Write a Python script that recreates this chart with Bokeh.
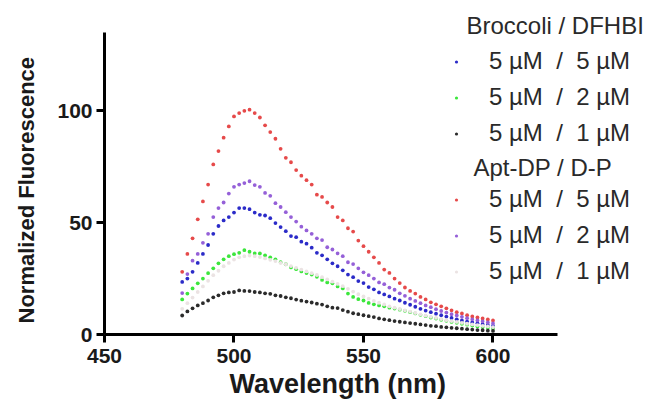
from bokeh.plotting import figure
from bokeh.models import Range1d, FixedTicker, Legend, LegendItem, Label, Title
from bokeh.embed import file_html
from bokeh.resources import INLINE

wavelength = list(range(480, 601, 2))

broccoli_5_5 = [23.5, 25, 28, 32, 36, 40, 45, 48.5, 51, 52.5,
                54.5, 56.5, 56.5, 56, 54.5, 53.5, 53.2, 52, 49.8, 48,
                46.2, 44, 43.5, 41.5, 40.6, 38.8, 36.5, 35.4, 33.6, 31.8,
                30.5, 28.7, 26.8, 25.6, 23.9, 23, 21.2, 20.2, 18.8, 17.9,
                17, 16, 15.2, 14.2, 13.3, 12.4, 11.5, 10.7, 10, 9.3,
                8.6, 8, 7.4, 6.8, 6.3, 5.8, 5.4, 5, 4.6, 4.2,
                3.9]
broccoli_5_2 = [15.7, 18.3, 20.6, 22.9, 25, 27.4, 29.6, 31.8, 33.6, 35,
                35.9, 36.5, 37.7, 37, 36.3, 36.2, 35.4, 34.5, 33.6, 32.3,
                31.4, 30, 29.2, 28.2, 27.5, 26.8, 25.8, 24.4, 23.3, 22.9,
                21.5, 20.6, 18.3, 16.8, 15.8, 15.2, 14.1, 13.5, 13, 12.6,
                12, 11.6, 11.1, 10.6, 10, 9.4, 8.8, 8.2, 7.6, 7.1,
                6.6, 6.1, 5.6, 5.2, 4.8, 4.4, 4, 3.6, 3.3, 3,
                2.7]
broccoli_5_1 = [8.5, 10.3, 11.7, 13, 14, 15.2, 16.6, 17.5, 18.4, 18.8,
                19, 19.7, 19.5, 19.4, 19, 18.8, 18.4, 18.2, 17.5, 17.2,
                16.6, 16.2, 15.6, 15.1, 14.7, 14.3, 13.8, 13.4, 12.6, 12,
                11.8, 10.9, 10.2, 9.5, 9.1, 8.6, 8.2, 7.8, 7.2, 6.8,
                6.4, 6, 5.7, 5.4, 5.1, 4.8, 4.5, 4.2, 3.9, 3.7,
                3.4, 3.2, 3, 2.8, 2.6, 2.4, 2.2, 2, 1.9, 1.7,
                1.6]
aptdp_5_5 = [28, 36, 43, 51.5, 59.5, 67, 76, 82, 88, 93,
             97.5, 99, 100, 100.5, 99, 97, 93.5, 90.5, 87.5, 83,
             79, 77, 73.5, 71, 69, 67, 62.5, 61.5, 59, 57,
             52.5, 51, 47.5, 46, 42, 39.5, 37, 34.5, 32, 29,
             27.5, 25, 23, 21, 19.5, 18.3, 16.8, 15.7, 14.4, 13.5,
             12.6, 11.7, 10.8, 10, 9.4, 8.6, 8.1, 7.6, 7.2, 6.7,
             6.3]
aptdp_5_2 = [18.5, 27, 33, 36, 41, 45, 52.5, 56.5, 59, 63,
             66, 67, 67.7, 68.5, 66.8, 66, 63.3, 62, 58.7, 57,
             54.7, 52.5, 50.5, 48.2, 46.5, 45, 43, 42.2, 39, 38,
             36.3, 35, 32.3, 31.5, 29.6, 27.8, 26.5, 25, 23.3, 22.5,
             21, 20, 18.4, 17.3, 16, 15, 14, 13, 12.2, 11.3,
             10.5, 9.8, 9.1, 8.5, 7.9, 7.3, 6.8, 6.3, 5.9, 5.4,
             5]
aptdp_5_1 = [11.5, 14, 16.5, 19, 21.5, 24, 26.5, 28.5, 30.5, 32,
             33.5, 34.5, 35, 35.3, 35, 34.6, 34, 33.4, 32.8, 32,
             31.4, 30.6, 29.8, 29, 28.2, 27.4, 26.6, 25.6, 24.6, 23.6,
             22.6, 21.6, 20.4, 19.2, 18, 17, 16, 15, 14.2, 13.4,
             12.6, 12, 11.4, 10.8, 10.2, 9.6, 9, 8.4, 7.9, 7.4,
             6.9, 6.4, 6, 5.6, 5.2, 4.8, 4.5, 4.2, 3.9, 3.6,
             3.3]

labels = ["5 µM  /  5 µM", "5 µM  /  2 µM", "5 µM  /  1 µM"]
group_titles = ["Broccoli / DFHBI", "Apt-DP / D-P"]
x_title = "Wavelength (nm)"
y_title = "Normalized Fluorescence"
x_ticks = [450, 500, 550, 600]
y_ticks = [0, 50, 100]
x_axis_extent = (450, 625)
y_axis_extent = (0, 135)

FONT = "Liberation Sans"

p = figure(width=653, height=405, output_backend="svg", toolbar_location=None,
           x_range=Range1d(450, 661.97), y_range=Range1d(0, 149.3),
           min_border_left=103, min_border_right=0, min_border_top=0, min_border_bottom=71)
p.outline_line_color = None
p.grid.visible = False
p.background_fill_color = "white"
p.border_fill_color = "white"

for ax in (p.xaxis[0], p.yaxis[0]):
    ax.axis_line_width = 3
    ax.axis_line_color = "black"
    ax.major_tick_line_width = 3
    ax.major_tick_line_color = "black"
    ax.major_tick_out = 8
    ax.major_tick_in = 0
    ax.minor_tick_line_color = None
    ax.major_label_text_font = FONT
    ax.major_label_text_font_style = "bold"
    ax.major_label_text_font_size = "21px"
    ax.major_label_text_color = "#1a1a1a"

p.xaxis[0].bounds = x_axis_extent
p.yaxis[0].bounds = y_axis_extent
p.xaxis[0].ticker = FixedTicker(ticks=x_ticks)
p.yaxis[0].ticker = FixedTicker(ticks=y_ticks)
p.xaxis[0].major_label_standoff = 6
p.yaxis[0].major_label_standoff = 4

p.add_layout(Title(text=x_title, align="left", offset=125, standoff=3,
                   text_font=FONT, text_font_style="bold", text_font_size="27px",
                   text_color="#1a1a1a"), "below")
p.add_layout(Title(text=y_title, align="left", offset=11, standoff=27,
                   vertical_align="top",
                   text_font=FONT, text_font_style="bold", text_font_size="22px",
                   text_color="#1a1a1a"), "left")

colors_b = ["#2b2bc8", "#3ce63c", "#2b2b2b"]
colors_a = ["#e64a4a", "#9560d8", "#ebe3e3"]
series_b = [broccoli_5_5, broccoli_5_2, broccoli_5_1]
series_a = [aptdp_5_5, aptdp_5_2, aptdp_5_1]

rend_b = [p.scatter(wavelength, s, size=3.8, color=c, line_color=None) for s, c in zip(series_b, colors_b)]
rend_a = [p.scatter(wavelength, s, size=3.8, color=c, line_color=None) for s, c in zip(series_a, colors_a)]

def make_legend(rends, loc):
    return Legend(items=[LegendItem(label=l, renderers=[r]) for l, r in zip(labels, rends)],
                  location=loc, orientation="vertical",
                  label_text_font=FONT, label_text_font_size="24px", label_text_color="#2a2a2a",
                  glyph_width=8, glyph_height=25, label_height=25, label_standoff=29,
                  spacing=8, padding=0, margin=0,
                  background_fill_alpha=0, border_line_color=None)

p.add_layout(make_legend(rend_b, (348, 187)))
p.add_layout(make_legend(rend_a, (348, 49)))

for t, (x, y) in zip(group_titles, [(362, 309), (369, 167)]):
    p.add_layout(Label(x=x, y=y, x_units="screen", y_units="screen", text=t,
                       text_font=FONT, text_font_size="24px", text_color="#2a2a2a",
                       text_baseline="middle", text_align="left"))

open("out.html", "w").write(file_html(p, INLINE))
